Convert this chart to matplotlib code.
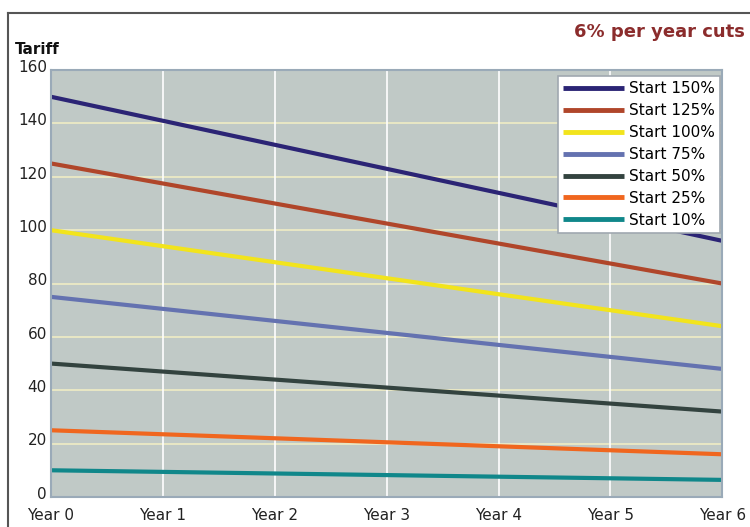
import matplotlib.pyplot as plt
import matplotlib.transforms as mtransforms
from matplotlib.lines import Line2D

# Datos
years = ['Year 0', 'Year 1', 'Year 2', 'Year 3', 'Year 4', 'Year 5', 'Year 6']
start_150 = [150, 141, 132, 123, 114, 105, 96]
start_125 = [125, 117.5, 110, 102.5, 95, 87.5, 80]
start_100 = [100, 94, 88, 82, 76, 70, 64]
start_75 = [75, 70.5, 66, 61.5, 57, 52.5, 48]
start_50 = [50, 47, 44, 41, 38, 35, 32]
start_25 = [25, 23.5, 22, 20.5, 19, 17.5, 16]
start_10 = [10, 9.4, 8.8, 8.2, 7.6, 7.0, 6.4]

series = [
    ('Start 150%', start_150, '#2b2475'),
    ('Start 125%', start_125, '#b0462a'),
    ('Start 100%', start_100, '#f2e41c'),
    ('Start 75%', start_75, '#6472b0'),
    ('Start 50%', start_50, '#33433f'),
    ('Start 25%', start_25, '#f0661e'),
    ('Start 10%', start_10, '#10878a'),
]

fig = plt.figure(figsize=(7.5, 5.27), dpi=100)
ax = fig.add_axes([0.068, 0.057, 0.895, 0.81])
ax.set_facecolor('#c0c9c6')

x = list(range(len(years)))
for label, vals, color in series:
    ax.plot(x, vals, color=color, lw=3.0, label=label, solid_capstyle='butt')

ax.set_xlim(0, 6)
ax.set_ylim(0, 160)
ax.set_yticks(range(0, 161, 20))
ax.set_xticks(x)
ax.set_xticklabels(years)

# Rejilla: horizontales amarillentas, verticales blancas
for yv in range(20, 160, 20):
    ax.axhline(yv, color='#f0ecc4', lw=1.2, zorder=0.5)
for xv in x[1:-1]:
    ax.axvline(xv, color='white', lw=1.2, zorder=0.5)

for s in ax.spines.values():
    s.set_color('#9aaab8')
    s.set_linewidth(1.5)
ax.tick_params(length=0, labelsize=11, colors='#222222', pad=3)
ax.tick_params(axis='x', pad=8)

# etiquetas del eje y un poco por encima de su linea (despues de tick_params)
subir = mtransforms.ScaledTranslation(0, 3 / 72, fig.dpi_scale_trans)
for tick in ax.yaxis.get_major_ticks():
    tick.label1.set_transform(tick.label1.get_transform() + subir)

leg = ax.legend(loc='upper right', fontsize=11, frameon=True, fancybox=False,
                borderpad=0.35, labelspacing=0.45, handlelength=4.0,
                handletextpad=0.3, borderaxespad=0, framealpha=1,
                facecolor='white', bbox_to_anchor=(0.997, 0.986))
leg.get_frame().set_edgecolor('#a0a8b0')
leg.get_frame().set_linewidth(1.2)
for h in leg.get_lines():
    h.set_linewidth(3.5)

# Titulos
fig.text(0.02, 0.898, 'Tariff', fontsize=11, fontweight='bold', color='#111111')
fig.text(0.993, 0.93, '6% per year cuts', fontsize=13, fontweight='bold',
         color='#8b2c2c', ha='right')

# Marco exterior
fig.add_artist(Line2D([0.011, 1.0], [0.975, 0.975], color='#555555', lw=1.5,
                      transform=fig.transFigure))
fig.add_artist(Line2D([0.011, 0.011], [0.0, 0.975], color='#555555', lw=1.5,
                      transform=fig.transFigure))

fig.savefig('out.png', dpi=100)
